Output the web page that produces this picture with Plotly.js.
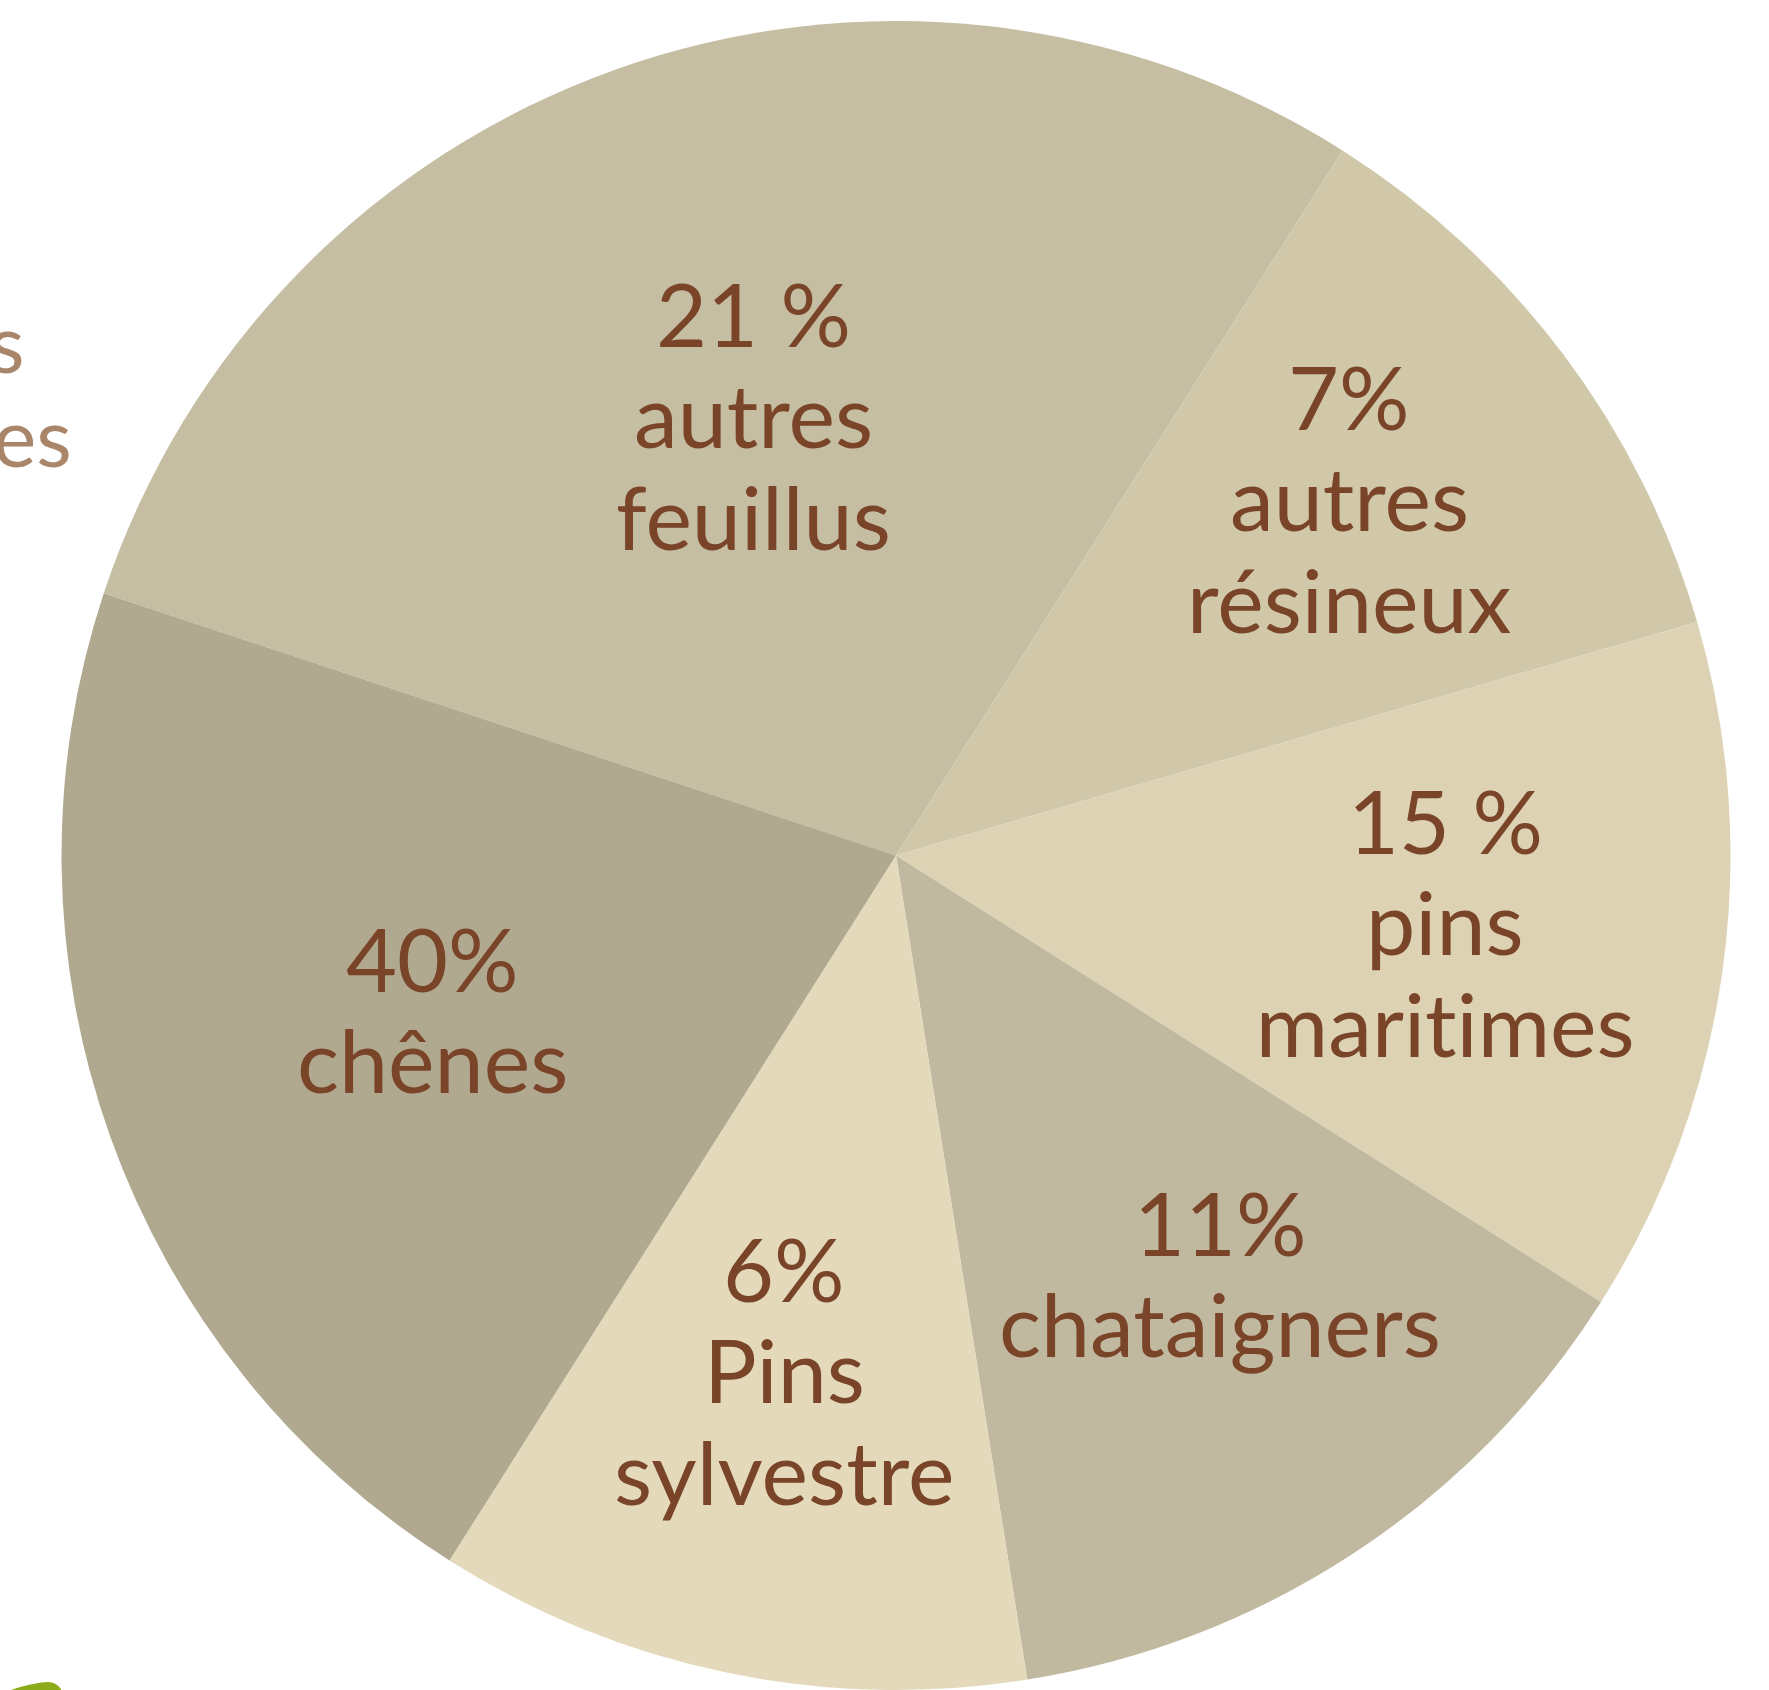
<!DOCTYPE html>
<html>
<head>
<meta charset="utf-8">
<script src="https://cdn.plot.ly/plotly-3.0.1.min.js"></script>
<style>
  html, body { margin: 0; padding: 0; background: #ffffff; }
  #chart { width: 1769px; height: 1690px; }
  #chart text { font-variant-ligatures: none; font-feature-settings: "liga" 0, "clig" 0; }
</style>
</head>
<body>
<div id="chart"></div>
<script>
// ---- data ----
const categories = ['autres feuillus', 'autres résineux', 'pins maritimes', 'chataigners', 'Pins sylvestre', 'chênes'];
// drawn size of each slice, in % of the disc (as measured on the picture)
const shares = [28.9, 11.5, 13.5, 13.5, 11.5, 21.1];
// printed labels
const percentLabels = ['21 %', '7%', '15 %', '11%', '6%', '40%'];
const nameLines = [['autres', 'feuillus'], ['autres', 'résineux'], ['pins', 'maritimes'], ['chataigners'], ['Pins', 'sylvestre'], ['chênes']];
// cut-off words of the surrounding page
const sideWords = ['s', 'es'];

// ---- style ----
const W = 1769, H = 1690;
const sliceColors = ['#C6BEA2', '#D1C8AA', '#DDD3B4', '#C1B99F', '#E4DABB', '#B0A98F'];
const textColor = '#7A4429';
const fontFamily = 'Lato, "Open Sans", sans-serif';
const fs = 88;
const lineStep = 101.5;
// label block anchors: centre x and first baseline y, in page pixels
const labelAnchors = [[753, 347], [1349, 430], [1445, 854], [1220, 1256], [784, 1302], [432, 992]];

const px = x => x / W;
const py = y => 1 - y / H;

const annotations = [];
categories.forEach((c, i) => {
  const lines = [percentLabels[i]].concat(nameLines[i]);
  lines.forEach((t, k) => {
    const base = labelAnchors[i][1] + k * lineStep;
    annotations.push({
      xref: 'paper', yref: 'paper',
      x: px(labelAnchors[i][0]), y: py(base - 0.387 * fs),
      xanchor: 'center', yanchor: 'middle',
      text: t, showarrow: false,
      font: { family: fontFamily, size: fs, color: textColor }
    });
  });
});
const sideAnchors = [[27, 373], [74, 467]];
sideWords.forEach((t, k) => {
  annotations.push({
    xref: 'paper', yref: 'paper',
    x: px(sideAnchors[k][0]), y: py(sideAnchors[k][1] - 0.387 * 82),
    xanchor: 'right', yanchor: 'middle',
    text: t, showarrow: false,
    font: { family: fontFamily, size: 82, color: '#A9856A' }
  });
});

const trace = {
  type: 'pie',
  labels: categories,
  values: shares,
  sort: false,
  direction: 'clockwise',
  rotation: -71.69,
  textinfo: 'none',
  hoverinfo: 'skip',
  marker: { colors: sliceColors, line: { width: 0 } },
  domain: { x: [px(61), px(1731)], y: [0, py(21)] },
  showlegend: false
};

const layout = {
  width: W, height: H,
  margin: { l: 0, r: 0, t: 0, b: 0 },
  paper_bgcolor: '#ffffff',
  plot_bgcolor: '#ffffff',
  showlegend: false,
  annotations: annotations,
  shapes: [{
    type: 'path', xref: 'paper', yref: 'paper',
    path: `M ${px(8)} ${py(1691)} Q ${px(30)} ${py(1683)} ${px(48)} ${py(1682)} Q ${px(57)} ${py(1682)} ${px(62)} ${py(1691)} Z`,
    fillcolor: '#8CAA1A', line: { width: 0 }
  }]
};

Plotly.newPlot('chart', [trace], layout, { staticPlot: true, displayModeBar: false });
</script>
</body>
</html>
